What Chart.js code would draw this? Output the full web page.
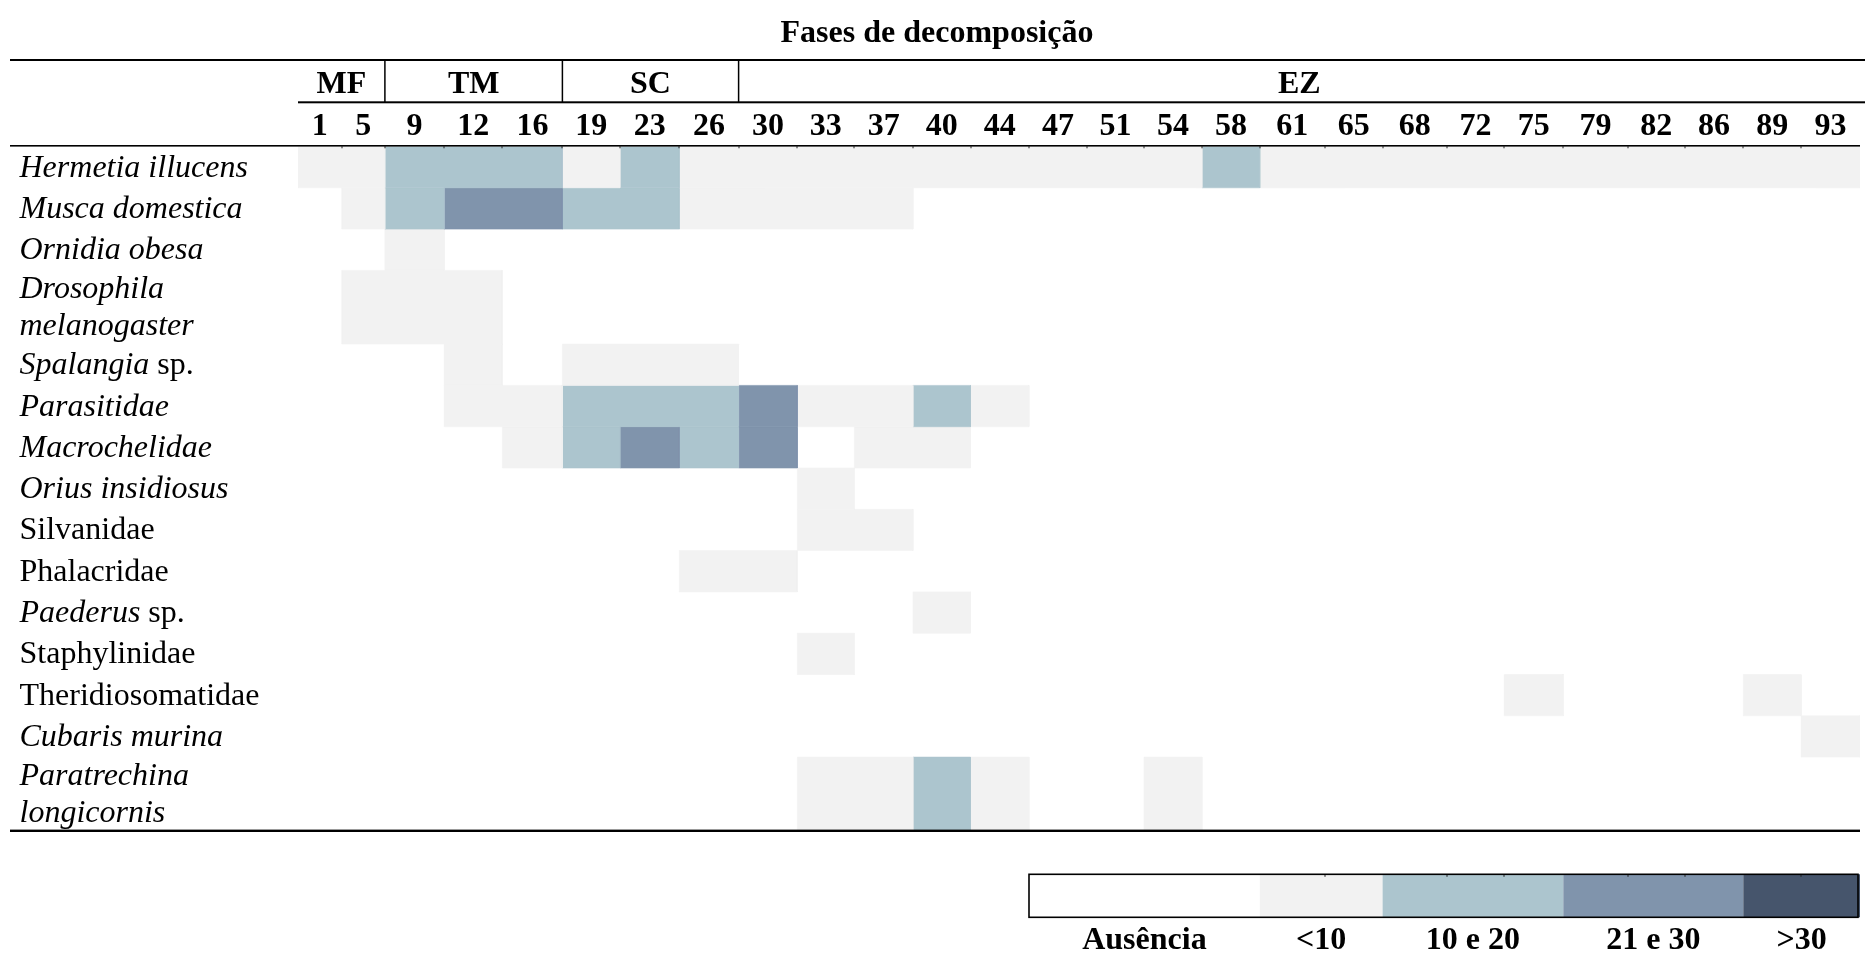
<!DOCTYPE html>
<html lang="pt">
<head>
<meta charset="utf-8">
<title>Fases de decomposição</title>
<script src="https://cdn.jsdelivr.net/npm/chart.js@4.4.1/dist/chart.umd.min.js"></script>
<style>
  html, body { margin: 0; padding: 0; background: #ffffff; }
  #wrap { position: relative; width: 1865px; height: 956px; }
  canvas { display: block; }
</style>
</head>
<body>
<div id="wrap"><canvas id="chart" width="1865" height="956"></canvas></div>
<script>
// ---- Data -------------------------------------------------------------
// Sampling days (column headers)
const DAYS = [1, 5, 9, 12, 16, 19, 23, 26, 30, 33, 37, 40, 44, 47, 51, 54, 58, 61, 65, 68, 72, 75, 79, 82, 86, 89, 93];

// Decomposition phases and the number of sampling days in each
const PHASES = ['MF', 'TM', 'SC', 'EZ'];
const PHASE_DAY_COUNT = [2, 3, 3, 19];

// Taxa (rows) and the leading part of each name that is set in italics
const TAXA = [
  'Hermetia illucens', 'Musca domestica', 'Ornidia obesa', 'Drosophila melanogaster',
  'Spalangia sp.', 'Parasitidae', 'Macrochelidae', 'Orius insidiosus', 'Silvanidae',
  'Phalacridae', 'Paederus sp.', 'Staphylinidae', 'Theridiosomatidae', 'Cubaris murina',
  'Paratrechina longicornis'
];
const TAXA_ITALIC = [
  'Hermetia illucens', 'Musca domestica', 'Ornidia obesa', 'Drosophila melanogaster',
  'Spalangia', 'Parasitidae', 'Macrochelidae', 'Orius insidiosus', '',
  '', 'Paederus', '', '', 'Cubaris murina',
  'Paratrechina longicornis'
];

// Abundance class per taxon (row) and sampling day (column):
// 0 = ausência, 1 = <10, 2 = 10 e 20, 3 = 21 e 30, 4 = >30
const ABUNDANCE_CLASS = [
  [1, 1, 2, 2, 2, 1, 2, 1, 1, 1, 1, 1, 1, 1, 1, 1, 2, 1, 1, 1, 1, 1, 1, 1, 1, 1, 1],
  [0, 1, 2, 3, 3, 2, 2, 1, 1, 1, 1, 0, 0, 0, 0, 0, 0, 0, 0, 0, 0, 0, 0, 0, 0, 0, 0],
  [0, 0, 1, 0, 0, 0, 0, 0, 0, 0, 0, 0, 0, 0, 0, 0, 0, 0, 0, 0, 0, 0, 0, 0, 0, 0, 0],
  [0, 1, 1, 1, 0, 0, 0, 0, 0, 0, 0, 0, 0, 0, 0, 0, 0, 0, 0, 0, 0, 0, 0, 0, 0, 0, 0],
  [0, 0, 0, 1, 0, 1, 1, 1, 0, 0, 0, 0, 0, 0, 0, 0, 0, 0, 0, 0, 0, 0, 0, 0, 0, 0, 0],
  [0, 0, 0, 1, 1, 2, 2, 2, 3, 1, 1, 2, 1, 0, 0, 0, 0, 0, 0, 0, 0, 0, 0, 0, 0, 0, 0],
  [0, 0, 0, 0, 1, 2, 3, 2, 3, 0, 1, 1, 0, 0, 0, 0, 0, 0, 0, 0, 0, 0, 0, 0, 0, 0, 0],
  [0, 0, 0, 0, 0, 0, 0, 0, 0, 1, 0, 0, 0, 0, 0, 0, 0, 0, 0, 0, 0, 0, 0, 0, 0, 0, 0],
  [0, 0, 0, 0, 0, 0, 0, 0, 0, 1, 1, 0, 0, 0, 0, 0, 0, 0, 0, 0, 0, 0, 0, 0, 0, 0, 0],
  [0, 0, 0, 0, 0, 0, 0, 1, 1, 0, 0, 0, 0, 0, 0, 0, 0, 0, 0, 0, 0, 0, 0, 0, 0, 0, 0],
  [0, 0, 0, 0, 0, 0, 0, 0, 0, 0, 0, 1, 0, 0, 0, 0, 0, 0, 0, 0, 0, 0, 0, 0, 0, 0, 0],
  [0, 0, 0, 0, 0, 0, 0, 0, 0, 1, 0, 0, 0, 0, 0, 0, 0, 0, 0, 0, 0, 0, 0, 0, 0, 0, 0],
  [0, 0, 0, 0, 0, 0, 0, 0, 0, 0, 0, 0, 0, 0, 0, 0, 0, 0, 0, 0, 0, 1, 0, 0, 0, 1, 0],
  [0, 0, 0, 0, 0, 0, 0, 0, 0, 0, 0, 0, 0, 0, 0, 0, 0, 0, 0, 0, 0, 0, 0, 0, 0, 0, 1],
  [0, 0, 0, 0, 0, 0, 0, 0, 0, 1, 1, 2, 1, 0, 0, 1, 0, 0, 0, 0, 0, 0, 0, 0, 0, 0, 0]
];

// Legend text for each abundance class
const CLASS_LABELS = ['Ausência', '<10', '10 e 20', '21 e 30', '>30'];

// ---- Styles and table layout ------------------------------------------
const CLASS_COLORS = ['#ffffff', '#f2f2f2', '#acc5ce', '#8094ac', '#46556c'];

// Relative widths of the day columns (the first two are narrower)
const COLUMN_WIDTHS = [43.7, 43.2, 59.3, 58.2, 60, 57.6, 59.3, 59.3, 58.8, 56.9, 58.7, 57.5, 58.5, 57.8,
  57.2, 58, 57.8, 64.9, 57.9, 64.4, 57.2, 59.1, 64.3, 57.3, 58.4, 57.9, 58.8];

// The legend sits under the last columns of the grid: first column and span of each class
const LEGEND_FIRST_COLUMN = 13;
const LEGEND_COLUMN_SPANS = [4, 2, 3, 3, 2];

const FONT_FAMILY = '"Liberation Serif", "Times New Roman", Times, serif';
const FONT_SIZE = 32;
const LINE_HEIGHT = 36.85;
const MIN_ROW_HEIGHT = 41.3;
const BASELINE_SHIFT = 9.5;
const LABEL_LEFT = 19.5;
const LABEL_MAX_WIDTH = 276;
const RULE_LEFT = 10;

const CANVAS_W = 1865, CANVAS_H = 956;
const GRID_LEFT = 298, GRID_TOP = 146.5, GRID_RIGHT_GAP = 5;

const HEADER = {
  titleBaseline: 41.7,
  topRule: 60,
  phaseBaseline: 92.7,
  phaseRule: 102.3,
  dayBaseline: 135,
  gridRule: 145.8
};
const LEGEND = { gapAbove: 43.5, boxHeight: 43, labelBaseline: 118.5 };

function font(style, weight) {
  return `${style} ${weight} ${FONT_SIZE}px ${FONT_FAMILY}`;
}

// ---- Derived geometry ---------------------------------------------------
const COL_EDGES = COLUMN_WIDTHS.reduce((acc, w) => { acc.push(acc[acc.length - 1] + w); return acc; }, [0]);
const TOTAL_W = COL_EDGES[COL_EDGES.length - 1];

const measureCtx = document.createElement('canvas').getContext('2d');

// Break a taxon name into lines of styled words that fit the label column
function layoutLabel(name, italicPart) {
  const italicCount = italicPart ? italicPart.split(' ').length : 0;
  const words = name.split(' ').map((text, i) => ({ text, italic: i < italicCount }));
  measureCtx.font = font('normal', 'normal');
  const space = measureCtx.measureText(' ').width;
  const lines = [[]];
  let width = 0;
  for (const w of words) {
    measureCtx.font = font(w.italic ? 'italic' : 'normal', 'normal');
    w.width = measureCtx.measureText(w.text).width;
    const line = lines[lines.length - 1];
    const gap = line.length ? space : 0;
    if (line.length && width + gap + w.width > LABEL_MAX_WIDTH) {
      lines.push([w]);
      width = w.width;
    } else {
      line.push(w);
      width += gap + w.width;
    }
  }
  return { lines, space };
}

const LABEL_LAYOUT = TAXA.map((name, i) => layoutLabel(name, TAXA_ITALIC[i]));
const ROW_HEIGHTS = LABEL_LAYOUT.map(l => Math.max(MIN_ROW_HEIGHT, l.lines.length * LINE_HEIGHT));
const ROW_EDGES = ROW_HEIGHTS.reduce((acc, h) => { acc.push(acc[acc.length - 1] + h); return acc; }, [0]);
const TOTAL_H = ROW_EDGES[ROW_EDGES.length - 1];

// ---- One filled rectangle per run of equal classes in a row -------------
const datasets = [];
ABUNDANCE_CLASS.forEach((row, r) => {
  let c = 0;
  while (c < row.length) {
    const k = row[c];
    let e = c;
    while (e + 1 < row.length && row[e + 1] === k) e++;
    if (k > 0) {
      const x0 = COL_EDGES[c], x1 = COL_EDGES[e + 1];
      const y0 = ROW_EDGES[r], y1 = ROW_EDGES[r + 1];
      datasets.push({
        label: `${TAXA[r]}: dias ${DAYS[c]}–${DAYS[e]} (${CLASS_LABELS[k]})`,
        data: [{ x: x0, y: y0 }, { x: x1, y: y0 }, { x: x1, y: y1 }, { x: x0, y: y1 }, { x: x0, y: y0 }],
        fill: 'shape',
        backgroundColor: CLASS_COLORS[k],
        borderColor: CLASS_COLORS[k],
        borderWidth: 0.6,
        pointRadius: 0,
        pointHoverRadius: 0,
        tension: 0
      });
    }
    c = e + 1;
  }
});

// ---- Table header, row labels, rules and legend -------------------------
const tableDecor = {
  id: 'tableDecor',
  beforeDraw(chart) {
    const ctx = chart.ctx;
    ctx.save();
    ctx.fillStyle = '#ffffff';
    ctx.fillRect(0, 0, chart.width, chart.height);
    ctx.restore();
  },
  afterDraw(chart) {
    const ctx = chart.ctx;
    const xs = chart.scales.x, ys = chart.scales.y;
    const area = chart.chartArea;
    const px = v => xs.getPixelForValue(v);
    const W = chart.width;

    ctx.save();
    ctx.fillStyle = '#000000';
    ctx.textBaseline = 'alphabetic';

    // Title
    ctx.font = font('normal', 'bold');
    ctx.textAlign = 'center';
    ctx.fillText('Fases de decomposição', (RULE_LEFT + area.right) / 2 + 2, HEADER.titleBaseline);

    // Rules of the header
    ctx.fillRect(RULE_LEFT, HEADER.topRule - 1, W - RULE_LEFT, 2);
    ctx.fillRect(area.left, HEADER.phaseRule - 1, W - area.left, 2);
    ctx.fillRect(RULE_LEFT, HEADER.gridRule - 0.8, area.right - RULE_LEFT, 1.6);

    // Phase labels and separators
    let startCol = 0;
    PHASES.forEach((name, i) => {
      const endCol = startCol + PHASE_DAY_COUNT[i];
      const a = px(COL_EDGES[startCol]), b = px(COL_EDGES[endCol]);
      ctx.fillText(name, (a + b) / 2, HEADER.phaseBaseline);
      if (i > 0) ctx.fillRect(a - 0.75, HEADER.topRule, 1.5, HEADER.phaseRule - HEADER.topRule);
      startCol = endCol;
    });

    // Day labels
    DAYS.forEach((d, i) => {
      ctx.fillText(String(d), px((COL_EDGES[i] + COL_EDGES[i + 1]) / 2), HEADER.dayBaseline);
    });

    // Short cell-border marks under the header rule
    ctx.fillStyle = '#222222';
    for (let i = 1; i < DAYS.length; i++) {
      ctx.fillRect(Math.round(px(COL_EDGES[i])) - 0.5, HEADER.gridRule, 1, 2.5);
    }
    ctx.fillStyle = '#000000';

    // Taxon labels
    ctx.textAlign = 'left';
    LABEL_LAYOUT.forEach((layout, r) => {
      const center = (ys.getPixelForValue(ROW_EDGES[r]) + ys.getPixelForValue(ROW_EDGES[r + 1])) / 2;
      const n = layout.lines.length;
      layout.lines.forEach((line, li) => {
        const baseline = center + (li - (n - 1) / 2) * LINE_HEIGHT + BASELINE_SHIFT;
        let x = LABEL_LEFT;
        line.forEach((w, wi) => {
          if (wi > 0) x += layout.space;
          ctx.font = font(w.italic ? 'italic' : 'normal', 'normal');
          ctx.fillText(w.text, x, baseline);
          x += w.width;
        });
      });
    });

    // Bottom rule of the table
    ctx.fillRect(RULE_LEFT, area.bottom - 1.2, area.right - RULE_LEFT, 2.4);

    // Legend: one swatch per abundance class, aligned with the day columns
    const boxTop = area.bottom + LEGEND.gapAbove;
    const boxBottom = boxTop + LEGEND.boxHeight;
    let col = LEGEND_FIRST_COLUMN;
    ctx.font = font('normal', 'bold');
    ctx.textAlign = 'center';
    LEGEND_COLUMN_SPANS.forEach((span, k) => {
      const a = px(COL_EDGES[col]), b = px(COL_EDGES[col + span]);
      ctx.fillStyle = CLASS_COLORS[k];
      ctx.fillRect(a, boxTop, b - a, boxBottom - boxTop);
      if (k > 0) {
        ctx.fillStyle = '#222222';
        for (let j = col + 1; j < col + span; j++) {
          ctx.fillRect(Math.round(px(COL_EDGES[j])) - 0.5, boxTop, 1, 2.5);
        }
      }
      ctx.fillStyle = '#000000';
      ctx.fillText(CLASS_LABELS[k], (a + b) / 2, area.bottom + LEGEND.labelBaseline);
      col += span;
    });
    const la = px(COL_EDGES[LEGEND_FIRST_COLUMN]);
    const lb = px(COL_EDGES[col]) - 2;
    ctx.strokeStyle = '#000000';
    ctx.lineWidth = 1.6;
    ctx.strokeRect(la, boxTop, lb - la, boxBottom - boxTop);

    ctx.restore();
  }
};

new Chart(document.getElementById('chart'), {
  type: 'line',
  data: { datasets },
  options: {
    responsive: false,
    animation: false,
    events: [],
    layout: {
      padding: {
        left: GRID_LEFT,
        right: GRID_RIGHT_GAP,
        top: GRID_TOP,
        bottom: CANVAS_H - GRID_TOP - TOTAL_H
      }
    },
    scales: {
      x: { type: 'linear', min: 0, max: TOTAL_W, display: false },
      y: { type: 'linear', min: 0, max: TOTAL_H, reverse: true, display: false }
    },
    plugins: {
      legend: { display: false },
      title: { display: false },
      tooltip: { enabled: false }
    }
  },
  plugins: [tableDecor]
});
</script>
</body>
</html>
